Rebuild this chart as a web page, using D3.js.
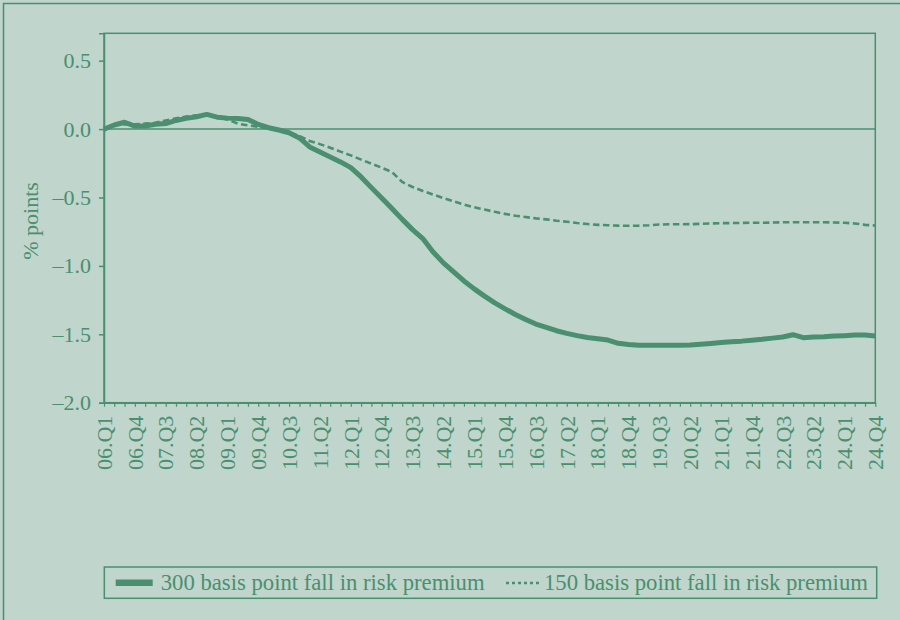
<!DOCTYPE html>
<html>
<head>
<meta charset="utf-8">
<script src="https://cdn.jsdelivr.net/npm/d3@7"></script>
<style>
  body { margin: 0; background: #c0d5cb; }
  svg { display: block; }
  svg text { font-family: 'Liberation Serif', serif; }
</style>
</head>
<body>
<svg width="900" height="620"></svg>
<script>
// quarters 06.Q1 .. 24.Q4
const quarters = []
for (let yr = 6; yr <= 24; yr++) {
	for (let q = 1; q <= 4; q++) quarters.push(String(yr).padStart(2, "0") + ".Q" + q)
}

const yTicks = [0.5, 0.0, -0.5, -1.0, -1.5, -2.0]

// 300 basis point fall in risk premium
const fall300 = [
	0.0, 0.03, 0.05, 0.022, 0.022, 0.035, 0.04, 0.063, 0.078, 0.09,
	0.107, 0.087, 0.08, 0.078, 0.07, 0.034, 0.01, -0.007, -0.027, -0.065,
	-0.131, -0.168, -0.204, -0.24, -0.282, -0.35, -0.428, -0.504, -0.58, -0.66,
	-0.735, -0.80, -0.898, -0.978, -1.044, -1.11, -1.168, -1.221, -1.27, -1.314,
	-1.355, -1.391, -1.425, -1.45, -1.474, -1.493, -1.51, -1.523, -1.533, -1.542,
	-1.566, -1.575, -1.58, -1.58, -1.58, -1.58, -1.58, -1.578, -1.573, -1.567,
	-1.56, -1.555, -1.55, -1.543, -1.537, -1.528, -1.52, -1.503, -1.525, -1.52,
	-1.518, -1.513, -1.51, -1.506, -1.505, -1.512
]

// 150 basis point fall in risk premium
const fall150 = [
	0.0, 0.03, 0.035, 0.034, 0.04, 0.046, 0.063, 0.078, 0.092, 0.1,
	0.105, 0.085, 0.07, 0.04, 0.027, 0.017, 0.005, -0.007, -0.024, -0.05,
	-0.087, -0.11, -0.136, -0.165, -0.192, -0.223, -0.253, -0.282, -0.314, -0.387,
	-0.423, -0.452, -0.479, -0.504, -0.528, -0.552, -0.572, -0.588, -0.605, -0.62,
	-0.633, -0.643, -0.653, -0.66, -0.67, -0.677, -0.687, -0.694, -0.70, -0.703,
	-0.706, -0.707, -0.706, -0.703, -0.698, -0.696, -0.696, -0.695, -0.693, -0.69,
	-0.688, -0.687, -0.686, -0.685, -0.685, -0.683, -0.681, -0.681, -0.681, -0.681,
	-0.681, -0.683, -0.685, -0.69, -0.70, -0.705
]

const seriesNames = ["300 basis point fall in risk premium", "150 basis point fall in risk premium"]

const green = "#4a8f70"
const serif = "'Liberation Serif', serif"
const svg = d3.select("svg")

// outer frame (right and bottom fall outside the picture)
svg.append("rect")
	.attr("x", 3.5).attr("y", 3.5)
	.attr("width", 910).attr("height", 630)
	.attr("fill", "none").attr("stroke", green).attr("stroke-width", 1.5)

const plotL = 104, plotR = 875.3, plotT = 33.3, plotB = 402.7

const x = d3.scalePoint().domain(quarters).range([plotL, plotR])
const y = d3.scaleLinear().domain([-2, 0.7]).range([plotB, plotT])

// plot frame
svg.append("rect")
	.attr("x", plotL).attr("y", plotT)
	.attr("width", plotR - plotL).attr("height", plotB - plotT)
	.attr("fill", "none").attr("stroke", green).attr("stroke-width", 1.5)

// zero line
svg.append("line")
	.attr("x1", plotL).attr("x2", plotR)
	.attr("y1", y(0)).attr("y2", y(0))
	.attr("stroke", green).attr("stroke-width", 1.5)

const fmt = d3.format(".1f")

// y axis
const yAxis = svg.append("g")
	.attr("transform", `translate(${plotL},0)`)
	.call(d3.axisLeft(y).tickValues(yTicks).tickSize(5).tickPadding(8))
	.attr("font-family", serif)
	.attr("font-size", 22)
yAxis.select(".domain").attr("stroke", green).attr("stroke-width", 1.5)
yAxis.selectAll(".tick line").attr("stroke", green).attr("stroke-width", 1.5)
yAxis.selectAll(".tick text")
	.attr("fill", green)
	.text(d => d < 0 ? "\u2013" + fmt(-d) : fmt(d))

// x axis
const xAxis = svg.append("g")
	.attr("transform", `translate(0,${plotB})`)
	.call(d3.axisBottom(x).tickSize(4).tickSizeOuter(0).tickFormat((d, i) => i % 3 === 0 ? d : ""))
	.attr("font-family", serif)
	.attr("font-size", 22)
xAxis.select(".domain").attr("stroke", green).attr("stroke-width", 1.5)
xAxis.selectAll(".tick line").attr("stroke", green).attr("stroke-width", 1.2)
xAxis.selectAll(".tick text")
	.attr("fill", green)
	.attr("transform", "rotate(-90)")
	.attr("text-anchor", "end")
	.attr("x", -13)
	.attr("y", 0)
	.attr("dy", "0.33em")

// y label
svg.append("text")
	.attr("transform", `translate(38,${(plotT + plotB) / 2 + 3}) rotate(-90)`)
	.attr("text-anchor", "middle")
	.attr("fill", green)
	.attr("font-family", serif)
	.attr("font-size", 22)
	.text("% points")

const line = d3.line()
	.x((d, i) => x(quarters[i]))
	.y(d => y(d))

svg.append("path")
	.datum(fall150)
	.attr("d", line)
	.attr("fill", "none")
	.attr("stroke", green)
	.attr("stroke-width", 2.6)
	.attr("stroke-dasharray", "6.5,3.5")

svg.append("path")
	.datum(fall300)
	.attr("d", line)
	.attr("fill", "none")
	.attr("stroke", green)
	.attr("stroke-width", 5)
	.attr("stroke-linejoin", "round")

// legend
const legend = svg.append("g").attr("class", "legend")
	.attr("font-family", serif)
	.attr("font-size", 22.7)
legend.append("rect")
	.attr("x", 104.3).attr("y", 567)
	.attr("width", 772.4).attr("height", 31.3)
	.attr("fill", "none").attr("stroke", green).attr("stroke-width", 1.5)

legend.append("line")
	.attr("x1", 115.7).attr("x2", 152.7).attr("y1", 582.7).attr("y2", 582.7)
	.attr("stroke", green).attr("stroke-width", 6.5)
legend.append("text")
	.attr("x", 160.7).attr("y", 590)
	.attr("fill", green)
	.text(seriesNames[0])

legend.append("line")
	.attr("x1", 506).attr("x2", 539).attr("y1", 583).attr("y2", 583)
	.attr("stroke", green).attr("stroke-width", 2.6)
	.attr("stroke-dasharray", "3,3")
legend.append("text")
	.attr("x", 544).attr("y", 590)
	.attr("fill", green)
	.text(seriesNames[1])
</script>
</body>
</html>
